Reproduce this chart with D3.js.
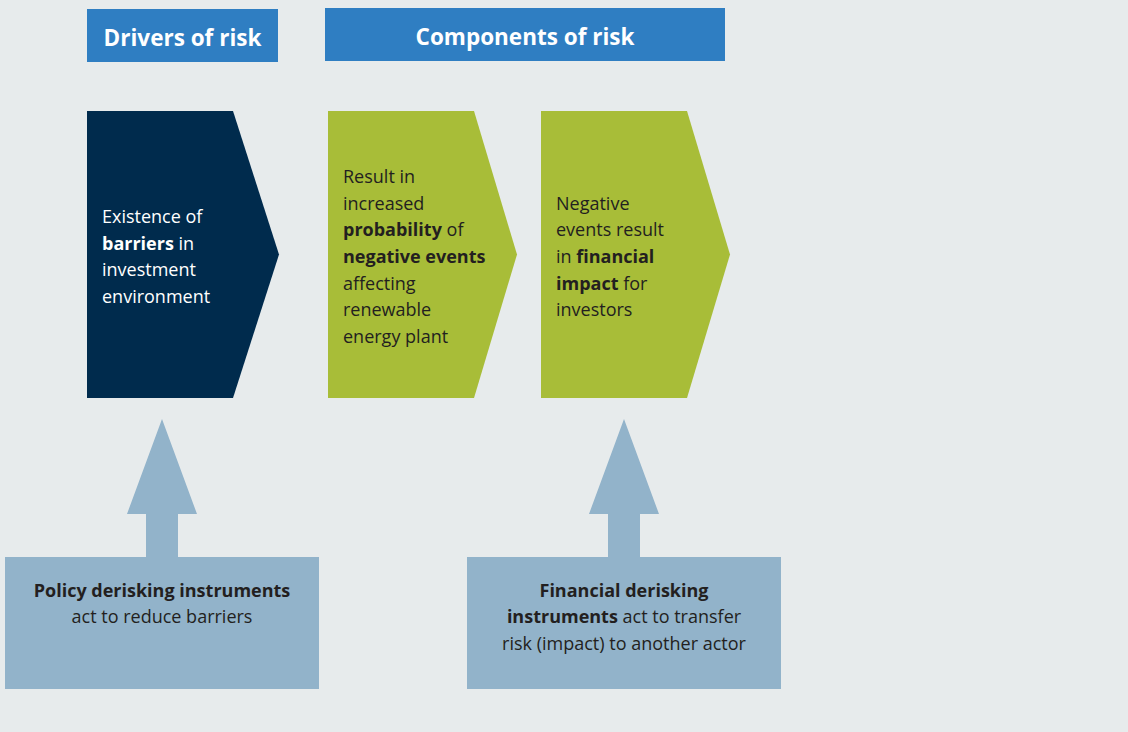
<!DOCTYPE html>
<html>
<head>
<meta charset="utf-8">
<script src="https://cdn.jsdelivr.net/npm/d3@7"></script>
<style>
  body { margin: 0; background: #e7ebec; }
  svg { display: block; font-family: "Open Sans", "Noto Sans", sans-serif; }
</style>
</head>
<body>
<div id="vis"></div>
<script>
const width = 1128;
const height = 732;

// header labels
const headers = ['Drivers of risk', 'Components of risk'];

// chevron text, each line is a list of [text, bold]
const chevronLines = [
  [
    [['Existence of', false]],
    [['barriers', true], [' in', false]],
    [['investment', false]],
    [['environment', false]]
  ],
  [
    [['Result in', false]],
    [['increased', false]],
    [['probability', true], [' of', false]],
    [['negative events', true]],
    [['affecting', false]],
    [['renewable', false]],
    [['energy plant', false]]
  ],
  [
    [['Negative', false]],
    [['events result', false]],
    [['in ', false], ['financial', true]],
    [['impact', true], [' for', false]],
    [['investors', false]]
  ]
];
const chevronKinds = ['driver', 'component', 'component'];

// instrument boxes
const boxLines = [
  [
    [['Policy derisking instruments', true]],
    [['act to reduce barriers', false]]
  ],
  [
    [['Financial derisking', true]],
    [['instruments', true], [' act to transfer', false]],
    [['risk (impact) to another actor', false]]
  ]
];

const svg = d3.select('#vis')
  .append('svg')
  .attr('width', width)
  .attr('height', height);

svg.append('rect')
  .attr('width', width)
  .attr('height', height)
  .style('fill', '#e7ebec');

// layout
const chevLeft = [87, 328, 541];
const chevTip = [46, 43, 43];
const chevW = 146;
const chevTop = 111, chevBot = 398;
const chevMid = (chevTop + chevBot) / 2;
const lineH = 26.6;
const fontSize = '18px';

// headers
const headerBoxes = [
  {x0: 87, x1: 278, y0: 9, y1: 62},
  {x0: 325, x1: 725, y0: 8, y1: 61}
];
const hg = svg.selectAll('g.header')
  .data(headers)
  .join('g')
  .attr('class', 'header');
hg.append('rect')
  .attr('x', (d, i) => headerBoxes[i].x0)
  .attr('y', (d, i) => headerBoxes[i].y0)
  .attr('width', (d, i) => headerBoxes[i].x1 - headerBoxes[i].x0)
  .attr('height', (d, i) => headerBoxes[i].y1 - headerBoxes[i].y0)
  .style('fill', '#2f7ec2');
hg.append('text')
  .attr('x', (d, i) => (headerBoxes[i].x0 + headerBoxes[i].x1) / 2)
  .attr('y', (d, i) => (headerBoxes[i].y0 + headerBoxes[i].y1) / 2 + 10.5)
  .attr('text-anchor', 'middle')
  .style('font-size', '22.5px')
  .style('font-weight', 'bold')
  .style('fill', '#fff')
  .text(d => d);

// chevrons
const line = d3.line();
const cg = svg.selectAll('g.chev')
  .data(chevronLines)
  .join('g')
  .attr('class', 'chev');
cg.append('path')
  .attr('d', (d, i) => {
    const x0 = chevLeft[i];
    return line([[x0, chevTop], [x0 + chevW, chevTop], [x0 + chevW + chevTip[i], chevMid],
      [x0 + chevW, chevBot], [x0, chevBot]]) + 'Z';
  })
  .style('fill', (d, i) => chevronKinds[i] === 'driver' ? '#002b4d' : '#a8bd38');

function writeLines(sel, lines, xPos, yFirst, anchor, color) {
  sel.selectAll('text.ln')
    .data(lines)
    .join('text')
    .attr('class', 'ln')
    .attr('x', xPos)
    .attr('y', (d, j) => yFirst + j * lineH)
    .attr('text-anchor', anchor)
    .style('font-size', fontSize)
    .style('fill', color)
    .selectAll('tspan')
    .data(d => d)
    .join('tspan')
    .style('font-weight', d => d[1] ? 'bold' : 'normal')
    .attr('xml:space', 'preserve')
    .text(d => d[0]);
}

cg.each(function(d, i) {
  const yFirst = chevMid - (d.length - 1) * lineH / 2 + 8.5;
  writeLines(d3.select(this), d, chevLeft[i] + 15, yFirst, 'start',
    chevronKinds[i] === 'driver' ? '#ffffff' : '#231f20');
});

// arrows and boxes
const boxCenter = [162, 624];
const boxTop = 557, boxBot = 689, boxW = 314;
const arrowTip = 419, arrowBase = 514, headHalf = 35, shaftHalf = 16;
const bg = svg.selectAll('g.box')
  .data(boxLines)
  .join('g')
  .attr('class', 'box');
bg.append('path')
  .attr('d', (d, i) => {
    const cx = boxCenter[i];
    return line([[cx, arrowTip], [cx + headHalf, arrowBase], [cx + shaftHalf, arrowBase],
      [cx + shaftHalf, boxTop + 1], [cx - shaftHalf, boxTop + 1], [cx - shaftHalf, arrowBase],
      [cx - headHalf, arrowBase]]) + 'Z';
  })
  .style('fill', '#92b3ca');
bg.append('rect')
  .attr('x', (d, i) => boxCenter[i] - boxW / 2)
  .attr('y', boxTop)
  .attr('width', boxW)
  .attr('height', boxBot - boxTop)
  .style('fill', '#92b3ca');
bg.each(function(d, i) {
  writeLines(d3.select(this), d, boxCenter[i], 596.5, 'middle', '#231f20');
});
</script>
</body>
</html>
